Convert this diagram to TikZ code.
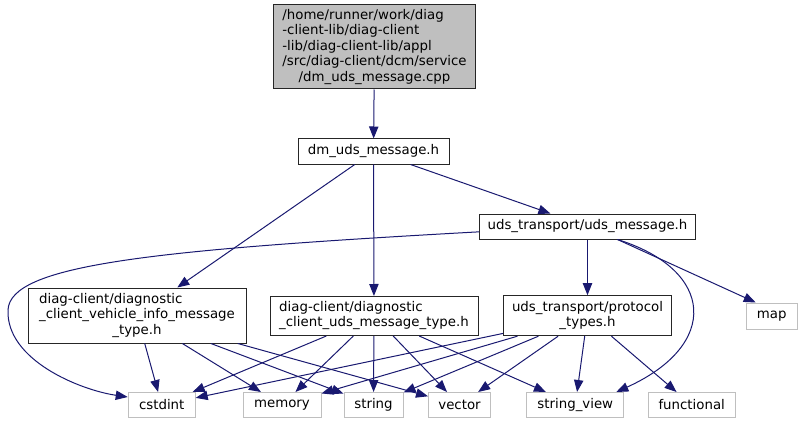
\documentclass[tikz,border=0pt]{standalone}
\usepackage{fontspec}
\setmainfont{DejaVu Sans}
\usetikzlibrary{arrows.meta}
\definecolor{edgeblue}{HTML}{191970}
\definecolor{grey75}{HTML}{BFBFBF}

\begin{document}
\begin{tikzpicture}[
  x=0.75pt, y=-0.75pt,
  font=\fontsize{10}{11.6}\selectfont,
  box/.style={draw=black!85, line width=0.75pt, fill=white, inner sep=0pt, align=center},
  leaf/.style={draw=grey75, line width=0.75pt, fill=white, inner sep=0pt, minimum height=18.75pt},
  arrow/.style={-{Triangle[length=9pt,width=7pt]}, line width=0.75pt, draw=edgeblue}
]
\useasboundingbox (0,0) rectangle (802,424);

\node[box, fill=grey75, minimum width=151.5pt, minimum height=63pt] (root) at (374.5,47)
  {\begin{tabular}{@{}l@{}}/home/runner/work/diag\\-client-lib/diag-client\\-lib/diag-client-lib/appl\\/src/diag-client/dcm/service\\\multicolumn{1}{@{}c@{}}{/dm\_uds\_message.cpp}\end{tabular}};
\node[box, minimum width=113.25pt, minimum height=18.75pt] (dmuds) at (373.5,151.5) {dm\_uds\_message.h};
\node[box, minimum width=162pt, minimum height=18.75pt] (udsmsg) at (587.5,226.5) {uds\_transport/uds\_message.h};
\node[box, minimum width=163.5pt, minimum height=41.25pt] (vehinfo) at (137,315.5)
  {\begin{tabular}{@{}l@{}}diag-client/diagnostic\\\_client\_vehicle\_info\_message\\\multicolumn{1}{@{}c@{}}{\_type.h}\end{tabular}};
\node[box, minimum width=156pt, minimum height=29.25pt] (udstype) at (374,316)
  {\begin{tabular}{@{}l@{}}diag-client/diagnostic\\\multicolumn{1}{@{}c@{}}{\_client\_uds\_message\_type.h}\end{tabular}};
\node[box, minimum width=126pt, minimum height=30pt] (prototypes) at (587.5,315.7)
  {\begin{tabular}{@{}l@{}}uds\_transport/protocol\\\multicolumn{1}{@{}c@{}}{\_types.h}\end{tabular}};

\node[leaf, minimum width=38.25pt, minimum height=19.5pt] (map) at (771.7,316) {map};
\node[leaf, minimum width=50.25pt] (cstdint) at (161.7,405) {cstdint};
\node[leaf, minimum width=58.5pt] (memory) at (282,405) {memory};
\node[leaf, minimum width=44.25pt] (string) at (373.5,405) {string};
\node[leaf, minimum width=46.5pt] (vector) at (459.5,405) {vector};
\node[leaf, minimum width=72.75pt] (strview) at (575.3,405) {string\_view};
\node[leaf, minimum width=65.25pt] (functional) at (691.7,405) {functional};

\draw[arrow] (root) -- (dmuds);
\draw[arrow] (dmuds) -- (udsmsg);
\draw[arrow] (dmuds) -- (vehinfo);
\draw[arrow] (dmuds) -- (udstype);

\draw[arrow] ([yshift=-4pt]udsmsg.west) .. controls (150,250) and (10,265) .. (8,310)
  .. controls (6,360) and (80,390) .. ([yshift=6pt]cstdint.west);
\draw[arrow] (udsmsg) -- (prototypes);
\draw[arrow] ([xshift=22.5pt]udsmsg.south) -- ([xshift=-12pt]map.north);
\draw[arrow] ([xshift=22.5pt]udsmsg.south) .. controls (715,270) and (720,345) .. ([xshift=-6pt]strview.north east);

\foreach \t in {cstdint,memory,string,vector} {
  \draw[arrow] (vehinfo) -- (\t);
}
\foreach \t in {cstdint,memory,string,vector,strview} {
  \draw[arrow] (udstype) -- (\t);
}
\foreach \t in {cstdint,memory,string,vector,strview,functional} {
  \draw[arrow] (prototypes) -- (\t);
}

\end{tikzpicture}
\end{document}
